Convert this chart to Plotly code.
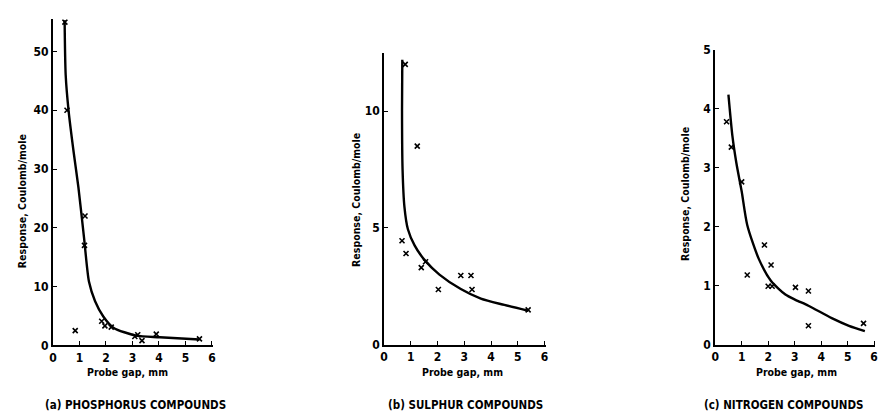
import plotly.graph_objects as go

# ---- data ----
# (a) phosphorus compounds
a_pts_x = [0.45, 0.53, 1.21, 1.19, 0.84, 1.84, 1.96, 2.2, 3.09, 3.2, 3.36, 3.9, 5.53]
a_pts_y = [55.0, 40.0, 22.0, 17.0, 2.5, 4.1, 3.3, 3.1, 1.5, 1.8, 0.8, 1.9, 1.1]
a_curve_x = [0.44, 0.48, 0.59, 0.78, 0.96, 1.18, 1.36, 1.59, 1.9, 2.28, 3.15, 4.03, 5.53]
a_curve_y = [55.3, 46.0, 39.9, 32.9, 26.9, 18.0, 10.8, 7.5, 4.9, 3.0, 1.64, 1.37, 0.99]

# (b) sulphur compounds
b_pts_x = [0.79, 1.24, 0.67, 0.82, 1.39, 1.55, 2.03, 2.87, 3.25, 3.29, 5.39]
b_pts_y = [12.0, 8.5, 4.45, 3.9, 3.3, 3.55, 2.36, 2.96, 2.96, 2.36, 1.49]
b_curve_x = [0.68, 0.67, 0.69, 0.76, 0.89, 1.14, 1.51, 2.07, 2.87, 3.62, 4.5, 5.39]
b_curve_y = [12.2, 10.0, 7.5, 5.9, 4.94, 4.25, 3.63, 3.0, 2.38, 1.97, 1.7, 1.45]

# (c) nitrogen compounds
c_pts_x = [0.43, 0.61, 1.0, 1.21, 1.86, 2.11, 2.0, 2.15, 3.03, 3.52, 3.52, 5.6]
c_pts_y = [3.78, 3.35, 2.76, 1.18, 1.69, 1.35, 0.99, 0.99, 0.97, 0.91, 0.32, 0.36]
c_curve_x = [0.5, 0.65, 0.8, 1.0, 1.21, 1.65, 2.11, 2.65, 3.03, 3.52, 4.4, 5.05, 5.65]
c_curve_y = [4.24, 3.54, 3.08, 2.6, 2.03, 1.45, 1.08, 0.85, 0.76, 0.66, 0.45, 0.32, 0.23]

x_ticks = [0, 1, 2, 3, 4, 5, 6]
y_ticks_a = [0, 10, 20, 30, 40, 50]
y_ticks_b = [0, 5, 10]
y_ticks_c = [0, 1, 2, 3, 4, 5]

captions = ["(a) PHOSPHORUS COMPOUNDS", "(b) SULPHUR COMPOUNDS", "(c) NITROGEN COMPOUNDS"]
x_title = "Probe gap, mm"
y_title = "Response, Coulomb/mole"

W, H = 891, 419
FONT = "DejaVu Sans Condensed"

fig = go.Figure()

panels = [
    (a_pts_x, a_pts_y, a_curve_x, a_curve_y, y_ticks_a, [0, 55.5], (49.3, 350, 12.6)),
    (b_pts_x, b_pts_y, b_curve_x, b_curve_y, y_ticks_b, [0, 12.5], (382.7, 349.3, 47.3)),
    (c_pts_x, c_pts_y, c_curve_x, c_curve_y, y_ticks_c, [0, 5.0], (716.0, 349.3, 44.3)),
]
px_per_mm = [26.67, 26.9, 26.67]
xt_centers = [124, 461.5, 798]
yt_centers = [(18, 201), (355, 200), (685, 193)]
cap_centers = [132, 465, 785]

layout = dict(
    width=W, height=H, margin=dict(l=0, r=0, t=0, b=0),
    paper_bgcolor="white", plot_bgcolor="white", showlegend=False,
    font=dict(family=FONT, color="black", size=11),
)
annotations = []
for i, (px, py, cx, cy, yt, yr, (x0, ybot, ytop)) in enumerate(panels):
    n = "" if i == 0 else str(i + 1)
    xa, ya = "x" + n, "y" + n
    fig.add_trace(go.Scatter(x=cx, y=cy, mode="lines", line=dict(color="black", width=2.4, shape="spline", smoothing=0.7),
                             xaxis=xa, yaxis=ya, hoverinfo="skip"))
    fig.add_trace(go.Scatter(x=px, y=py, mode="markers",
                             marker=dict(symbol="x-thin", size=5, line=dict(color="black", width=1.6)),
                             xaxis=xa, yaxis=ya))
    x1 = x0 + 6.05 * px_per_mm[i]
    layout["xaxis" + n] = dict(
        domain=[x0 / W, x1 / W], range=[0, 6.05], anchor=ya,
        tickvals=x_ticks, ticks="inside", ticklen=4, tickwidth=1.2, tickcolor="black",
        showline=True, linecolor="black", linewidth=2, showgrid=False, zeroline=False,
        tickfont=dict(family=FONT, size=12, weight="bold"), fixedrange=True,
    )
    layout["yaxis" + n] = dict(
        domain=[1 - ybot / H, 1 - ytop / H], range=yr, anchor=xa,
        tickvals=yt, ticks="inside", ticklen=4, tickwidth=1.2, tickcolor="black",
        showline=True, linecolor="black", linewidth=2, showgrid=False, zeroline=False,
        tickfont=dict(family=FONT, size=12, weight="bold"), fixedrange=True,
    )
    annotations.append(dict(x=xt_centers[i] / W, y=1 - 378 / H, xref="paper", yref="paper",
                            text=x_title, showarrow=False, xanchor="center", yanchor="middle",
                            font=dict(family=FONT, size=10.5, weight="bold")))
    annotations.append(dict(x=yt_centers[i][0] / W, y=1 - yt_centers[i][1] / H, xref="paper", yref="paper",
                            text=y_title, showarrow=False, xanchor="center", yanchor="middle", textangle=-90,
                            font=dict(family=FONT, size=10.5, weight="bold")))
    annotations.append(dict(x=cap_centers[i] / W, y=1 - 411.5 / H, xref="paper", yref="paper",
                            text=captions[i], showarrow=False, xanchor="center", yanchor="middle",
                            font=dict(family=FONT, size=11.5, weight="bold")))

layout["annotations"] = annotations
fig.update_layout(**layout)
fig.write_html("out.html")
